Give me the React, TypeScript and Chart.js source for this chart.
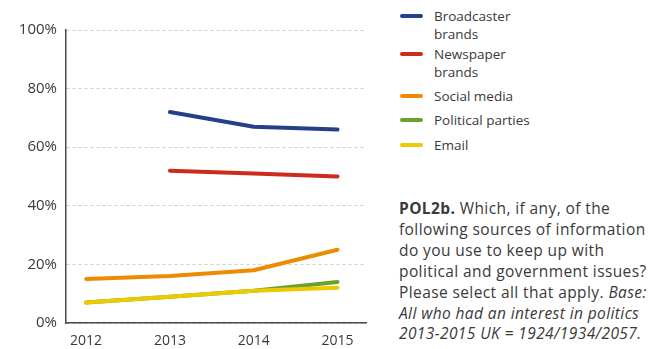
import React, { useEffect, useRef } from "react";
import { Chart, registerables } from "chart.js";

Chart.register(...registerables);

const years = [2012, 2013, 2014, 2015];
const yTicks = [0, 20, 40, 60, 80, 100];
const seriesNames = ["Broadcaster brands", "Newspaper brands", "Social media", "Political parties", "Email"];
const broadcaster = [null, 72, 67, 66];
const newspaper = [null, 52, 51, 50];
const socialMedia = [15, 16, 18, 25];
const politicalParties = [7, 9, 11, 14];
const email = [7, 9, 11, 12];
const colors = ["#263f8a", "#cc2b1d", "#ec8c02", "#6aa22c", "#ecc900"];

const FONT = "'Open Sans', sans-serif";
const TEXT = "#3a3a3a";

export default function App() {
  const ref = useRef<HTMLCanvasElement | null>(null);
  useEffect(() => {
    const all = [broadcaster, newspaper, socialMedia, politicalParties, email];
    const datasets = all.map((vals, i) => ({
      label: seriesNames[i],
      data: years
        .map((y, j) => ({ x: y, y: vals[j] }))
        .filter((p) => p.y !== null),
      borderColor: colors[i],
      backgroundColor: colors[i],
      borderWidth: 4,
      pointRadius: 0,
      tension: 0,
      borderCapStyle: "round" as const,
      borderJoinStyle: "round" as const,
      order: 5 - i,
    }));
    const chart = new Chart(ref.current!, {
      type: "line",
      data: { datasets },
      options: {
        animation: false,
        responsive: false,
        maintainAspectRatio: false,
        layout: { padding: { top: 30, right: 14, left: 0, bottom: 0 } },
        plugins: { legend: { display: false }, tooltip: { enabled: false } },
        scales: {
          x: {
            type: "linear",
            min: 2011.76,
            max: 2015.34,
            afterBuildTicks: (s: any) => {
              s.ticks = years.map((v) => ({ value: v }));
            },
            afterFit: (s: any) => {
              s.height = 26;
            },
            grid: { display: true, drawOnChartArea: false, drawTicks: false, color: "transparent" },
            border: { display: true, color: "#4a4a4a", width: 1.5 },
            ticks: {
              padding: 10,
              color: TEXT,
              font: { family: FONT, size: 14 },
              callback: (v: any) => String(v),
              maxRotation: 0,
            },
          },
          y: {
            min: 0,
            max: 100,
            afterBuildTicks: (s: any) => {
              s.ticks = yTicks.map((v) => ({ value: v }));
            },
            afterFit: (s: any) => {
              s.width = 66;
            },
            grid: {
              display: true,
              drawTicks: false,
              color: "#cfcfcf",
              lineWidth: 1,
            },
            border: { display: true, color: "#4a4a4a", width: 1.5, dash: [3, 3] },
            ticks: {
              padding: 9,
              color: TEXT,
              font: { family: FONT, size: 15 },
              callback: (v: any) => v + "%",
            },
          },
        },
      },
    });
    return () => chart.destroy();
  }, []);

  const legendTops = [7, 45, 87, 111, 136];
  return (
    <div style={{ position: "absolute", left: 0, top: 0, width: 663, height: 349, background: "#fff", fontFamily: FONT, color: TEXT }}>
      <canvas ref={ref} width={380} height={349} style={{ position: "absolute", left: 0, top: 0, width: 380, height: 349 }} />
      {seriesNames.map((name, i) => (
        <div key={name} style={{ position: "absolute", left: 400, top: legendTops[i], width: 130 }}>
          <div style={{ position: "absolute", left: 0, top: 7, width: 23, height: 4, borderRadius: 2, background: colors[i] }} />
          <div style={{ position: "absolute", left: 34, top: 0, width: 100, fontSize: 13.5, lineHeight: "18px" }}>{name}</div>
        </div>
      ))}
      <div style={{ position: "absolute", left: 399, top: 198, width: 264, fontSize: 15.5, letterSpacing: 0.4, lineHeight: "20.9px", whiteSpace: "nowrap" }}>
        <b>POL2b.</b> Which, if any, of the<br />
        following sources of information<br />
        do you use to keep up with<br />
        political and government issues?<br />
        Please select all that apply. <i>Base:</i><br />
        <i>All who had an interest in politics</i><br />
        <i>2013-2015 UK = 1924/1934/2057.</i>
      </div>
    </div>
  );
}
